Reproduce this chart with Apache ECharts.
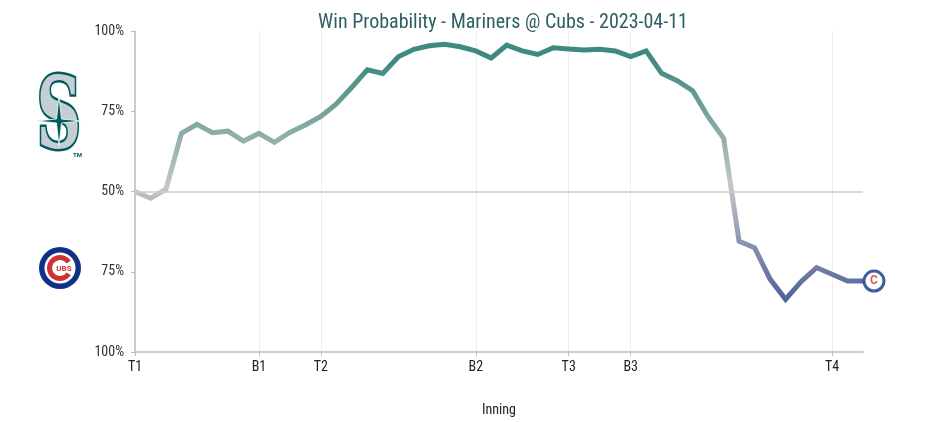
<!DOCTYPE html>
<html>
<head>
<meta charset="utf-8">
<script src="https://cdn.jsdelivr.net/npm/echarts@6/dist/echarts.min.js"></script>
<style>
html,body{margin:0;padding:0;background:#fff;}
#chart{width:926px;height:422px;}
</style>
</head>
<body>
<div id="chart"></div>
<script>
// Mariners win probability, one value per play (index 0..47)
var winProb = [0.500,0.479,0.507,0.681,0.709,0.683,0.688,0.657,0.681,0.653,0.684,0.707,
               0.734,0.773,0.825,0.879,0.868,0.920,0.943,0.954,0.959,0.951,0.938,0.916,
               0.956,0.938,0.927,0.948,0.944,0.941,0.943,0.938,0.920,0.938,0.868,0.845,
               0.814,0.733,0.666,0.345,0.325,0.227,0.164,0.219,0.263,0.242,0.221,0.221];
var inningTickIndex = [0, 8, 12, 22, 28, 32, 45];
var inningTickLabels = ['T1', 'B1', 'T2', 'B2', 'T3', 'B3', 'T4'];
var yTickValues = [0, 0.25, 0.5, 0.75, 1];
var yTickLabels = ['100%', '75%', '50%', '75%', '100%'];
var titleText = 'Win Probability - Mariners @ Cubs - 2023-04-11';
var xAxisTitle = 'Inning';

var categories = winProb.map(function (v, i) {
  var k = inningTickIndex.indexOf(i);
  return k >= 0 ? inningTickLabels[k] : '';
});
var showAt = function (i, v) { return v !== ''; };
var fontCond = '"Roboto Condensed","Liberation Sans Narrow","DejaVu Sans Condensed",Roboto,sans-serif';

var chart = echarts.init(document.getElementById('chart'));
var lastIdx = winProb.length - 1;

chart.setOption({
  animation: false,
  backgroundColor: '#fff',
  title: {
    text: titleText,
    left: 498, top: 8, textAlign: 'center',
    textStyle: { fontFamily: fontCond, fontSize: 20, fontWeight: 'normal', color: '#2f5e63' }
  },
  grid: { left: 135, right: 63, top: 31, bottom: 70, containLabel: false },
  visualMap: {
    show: false, type: 'continuous', dimension: 1, seriesIndex: 0,
    min: 0.14, max: 0.9,
    inRange: { color: ['#4a5b97', '#c6c6c6', '#3f8a80'] }
  },
  xAxis: {
    type: 'category',
    data: categories,
    boundaryGap: false,
    name: xAxisTitle,
    nameLocation: 'middle',
    nameGap: 51,
    nameTextStyle: { fontFamily: fontCond, fontSize: 14, color: '#222' },
    axisLine: { lineStyle: { color: '#bdbdbd', width: 1.5 } },
    axisTick: { show: true, interval: showAt, length: 4, lineStyle: { color: '#bdbdbd' } },
    axisLabel: { interval: showAt, fontFamily: fontCond, fontSize: 14, color: '#222', margin: 8 },
    splitLine: { show: true, interval: showAt, lineStyle: { color: '#eeeeee', width: 1 } }
  },
  yAxis: {
    type: 'value', min: 0, max: 1, interval: 0.25,
    axisLine: { show: true, lineStyle: { color: '#bdbdbd', width: 1.5 } },
    axisTick: { show: true, length: 4, lineStyle: { color: '#bdbdbd' } },
    axisLabel: {
      fontFamily: fontCond, fontSize: 14, color: '#333', margin: 11,
      formatter: function (v) {
        var k = yTickValues.findIndex(function (t) { return Math.abs(t - v) < 1e-6; });
        return k >= 0 ? yTickLabels[k] : '';
      }
    },
    splitLine: { show: false }
  },
  series: [
    {
      type: 'line',
      data: winProb.map(function (v, i) { return [i, v]; }),
      showSymbol: false,
      symbol: 'none',
      lineStyle: { width: 5, join: 'miter' },
      z: 3,
      markLine: {
        silent: true, symbol: 'none', label: { show: false },
        lineStyle: { color: '#cccccc', width: 1.5, type: 'solid' },
        data: [{ yAxis: yTickValues[2] }]
      }
    },
    {
      type: 'scatter',
      data: [[lastIdx, winProb[lastIdx]]],
      symbol: 'circle',
      symbolSize: 20,
      symbolOffset: [11, 0],
      itemStyle: { color: '#ffffff', borderColor: '#0e3386', borderWidth: 3 },
      label: {
        show: true, position: 'inside',
        formatter: 'C', color: '#cc3433', fontWeight: 'bold', fontSize: 12, fontFamily: 'Roboto'
      },
      z: 5
    }
  ],
  graphic: [
    // Mariners logo (approximation)
    {
      type: 'text', x: 59, y: 122, scaleX: 0.62, z: 10,
      style: {
        text: 'S', fontSize: 100, fontWeight: 'bold', fontFamily: '"DejaVu Serif",serif',
        fill: '#c4ced4', stroke: '#005c5c', lineWidth: 5, align: 'center', verticalAlign: 'middle'
      }
    },
    {
      type: 'polygon', z: 11,
      shape: { points: [[59, 96], [61.5, 119], [82, 121], [61.5, 123], [59, 146], [56.5, 123], [36, 121], [56.5, 119]] },
      style: { fill: '#005c5c', stroke: '#ffffff', lineWidth: 0.8 }
    },
    {
      type: 'text', x: 73, y: 152, z: 10,
      style: { text: 'TM', fontSize: 6, fontWeight: 'bold', fill: '#005c5c', fontFamily: 'Roboto' }
    },
    // Cubs logo (approximation)
    {
      type: 'circle', shape: { cx: 60, cy: 268, r: 21 }, z: 10,
      style: { fill: '#0e3386' }
    },
    {
      type: 'circle', shape: { cx: 60, cy: 268, r: 15.5 }, z: 11,
      style: { fill: '#ffffff' }
    },
    {
      type: 'arc', z: 12,
      shape: { cx: 60, cy: 268, r: 10.5, startAngle: 0.6, endAngle: Math.PI * 2 - 0.6, clockwise: true },
      style: { stroke: '#cc3433', lineWidth: 5, fill: null }
    },
    {
      type: 'text', x: 64, y: 268.5, z: 13,
      style: { text: 'UBS', fontSize: 8, fontWeight: 'bold', fill: '#cc3433', align: 'center', verticalAlign: 'middle', fontFamily: 'Roboto' }
    }
  ]
});
</script>
</body>
</html>
